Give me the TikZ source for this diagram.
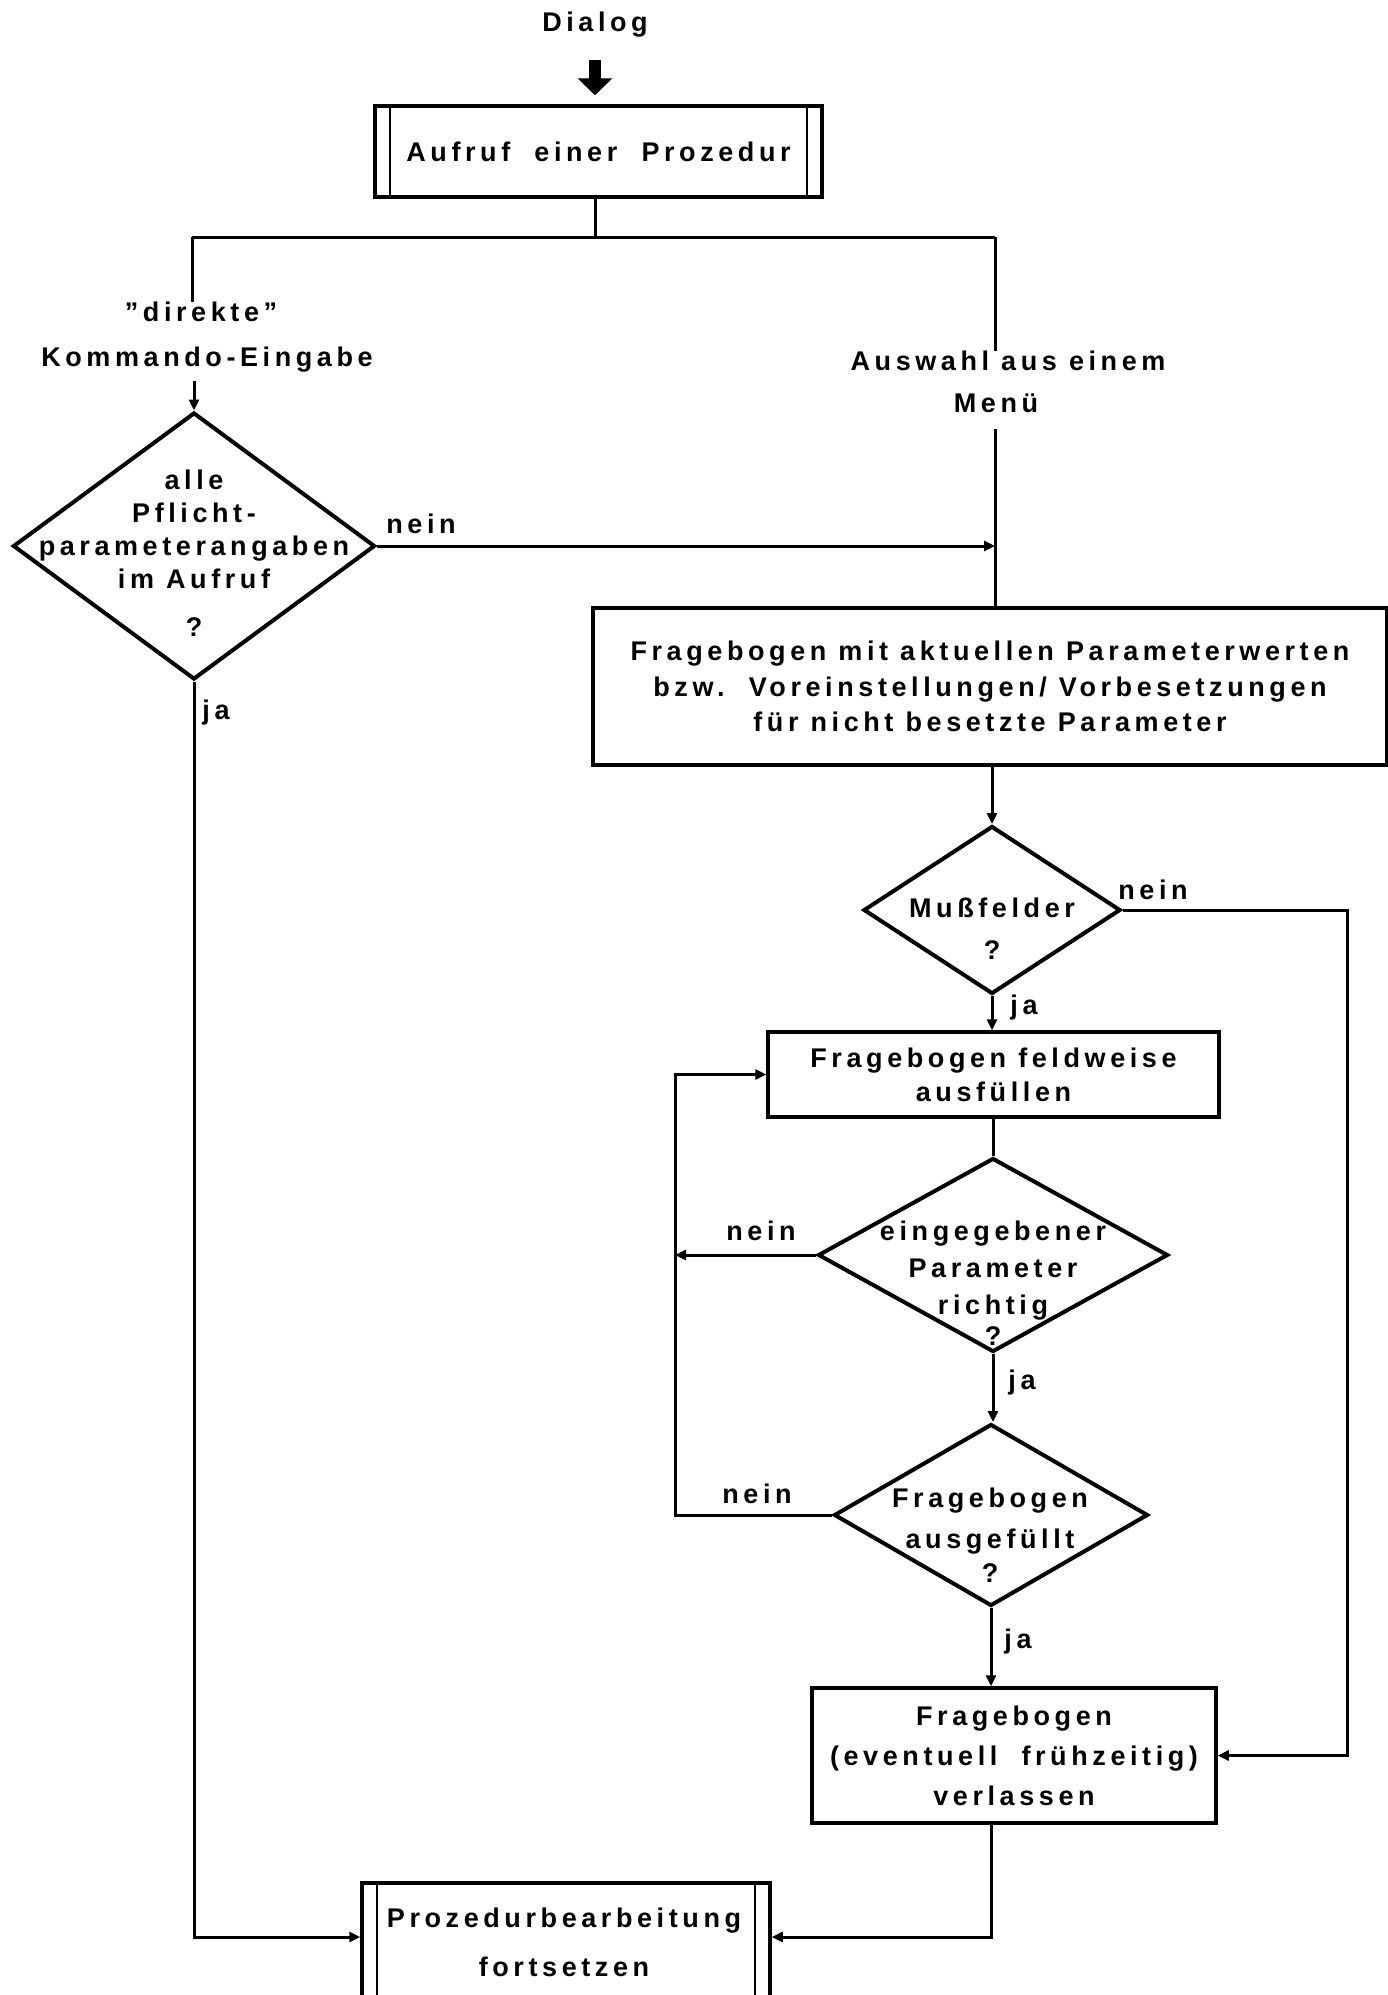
\documentclass[tikz,border=0pt]{standalone}
\usepackage{fontspec}
\setmainfont{Liberation Sans}[LetterSpace=17]
\usetikzlibrary{arrows.meta,shapes.geometric}
\begin{document}
\begin{tikzpicture}[x=1pt,y=-1pt,
  every node/.style={font=\fontsize{27}{33}\selectfont\bfseries},
  txt/.style={inner sep=0pt, align=center},
  conn/.style={line width=3pt},
  arr/.style={conn, -{Triangle[length=11pt,width=10pt]}},
  box/.style={draw, rectangle, line width=3.5pt, inner sep=0pt, align=center},
  subbox/.style={box, path picture={\draw[line width=2.5pt]
      ([xshift=15pt]path picture bounding box.north west) -- ([xshift=15pt]path picture bounding box.south west)
      ([xshift=-15pt]path picture bounding box.north east) -- ([xshift=-15pt]path picture bounding box.south east);}},
  dia/.style={draw, diamond, line width=4pt, inner sep=0pt},
  bigarrow/.style={line width=12pt, -{Triangle[length=17pt,width=34pt]}}
]
\fill[white] (0,0) rectangle (1388,1995);
\useasboundingbox (0,0) rectangle (1388,1995);

% helper coordinates
\coordinate (brL) at (192,237);
\coordinate (brR) at (995,237);
\coordinate (rx) at (1347,0);
\coordinate (lx) at (675,0);
\coordinate (by) at (0,1937);

% nodes
\node[txt] (dialog) at (595,25) {Dialog};
\node[subbox, minimum width=447pt, minimum height=91pt] (aufruf) at (598.5,151.5) {Aufruf\ \ einer\ \ Prozedur};

\node[txt] (direkt) at (201,312) {"direkte"};
\node[txt] (kommando) at (207,360) {Kommando-Eingabe};
\node[txt] (auswahl) at (1008,361) {Auswahl aus einem};
\node[txt] (menu) at (996,403) {Menü};

\node[dia, minimum width=362pt, minimum height=267pt] (d1) at (194,546) {};
\node[txt] (d1t) at (194,529) {alle\\Pflicht-\\parameterangaben\\im Aufruf};
\node[txt] (d1q) at (194,627) {?};
\node[txt] (nein1) at (421,524) {nein};
\node[txt] (ja1) at (216,713) {ja};

\node[box, minimum width=794pt, minimum height=157pt, font=\fontsize{27}{35.5}\selectfont\bfseries] (bb) at (990,686.5)
  {Fragebogen mit aktuellen Parameterwerten\\bzw.\ \ Voreinstellungen/ Vorbesetzungen\\für nicht besetzte Parameter};

\node[dia, minimum width=257pt, minimum height=168pt] (d2) at (992,910) {};
\node[txt] (d2t) at (992,908) {Mußfelder};
\node[txt] (d2q) at (992,950) {?};
\node[txt] (nein2) at (1153,890) {nein};
\node[txt] (ja2) at (1024,1008) {ja};

\node[box, minimum width=451pt, minimum height=85pt, font=\fontsize{27}{34}\selectfont\bfseries] (box2) at (993.5,1074.5) {Fragebogen feldweise\\ausfüllen};

\node[dia, minimum width=350pt, minimum height=194pt] (d3) at (993,1255) {};
\node[txt, font=\fontsize{27}{37}\selectfont\bfseries] (d3t) at (993,1271) {eingegebener\\Parameter\\richtig};
\node[txt] (d3q) at (993,1336) {?};
\node[txt] (nein3) at (761,1231) {nein};
\node[txt] (ja3) at (1022,1383) {ja};

\node[dia, minimum width=314pt, minimum height=182pt] (d4) at (991,1515) {};
\node[txt, font=\fontsize{27}{41}\selectfont\bfseries] (d4t) at (990,1521) {Fragebogen\\ausgefüllt};
\node[txt] (d4q) at (990,1573) {?};
\node[txt] (nein4) at (757,1494) {nein};
\node[txt] (ja4) at (1018,1641) {ja};

\node[box, minimum width=404pt, minimum height=135pt, font=\fontsize{27}{40}\selectfont\bfseries] (box3) at (1014,1755.5) {Fragebogen\\(eventuell\ \ frühzeitig)\\verlassen};

\node[subbox, minimum width=408pt, minimum height=130pt] (box4) at (566,1948) {};
\node[txt, font=\fontsize{27}{49}\selectfont\bfseries] (box4t) at (564,1942) {Prozedurbearbeitung\\fortsetzen};

% connectors
\draw[bigarrow, shorten <=22pt, shorten >=9pt] (dialog.south |- 0,38) -- (dialog.south |- aufruf.north);
\draw[conn] (aufruf.south -| 595,0) -- (brL -| 595,0);
\draw[conn] (brL) -- (brR);
\draw[conn] (brL) -- (brL |- direkt.north);
\draw[conn] (brR) -- (brR |- auswahl.north);
\draw[arr, shorten <=8pt] (kommando.south -| d1.north) -- (d1.north);
\draw[arr] (d1.east) -- (d1.east -| brR);
\draw[conn, shorten <=16pt] (menu.south -| brR) -- (bb.north -| brR);
\draw[arr] (bb.south -| d2.north) -- (d2.north);
\draw[arr] (d2.south) -- (d2.south |- box2.north);
\draw[arr] (d2.east) -- (d2.east -| rx) |- (box3.east);
\draw[conn] (box2.south -| d3.north) -- (d3.north);
\draw[arr] (d3.west) -- (d3.west -| lx);
\draw[arr] (d3.south) -- (d3.south |- d4.north);
\draw[arr] (d4.west) -- (d4.west -| lx) |- (box2.west);
\draw[arr] (d4.south) -- (d4.south |- box3.north);
\draw[arr] (box3.south -| d4.south) |- (box4.east |- by);
\draw[arr] (d1.south) |- (box4.west |- by);
\end{tikzpicture}
\end{document}
